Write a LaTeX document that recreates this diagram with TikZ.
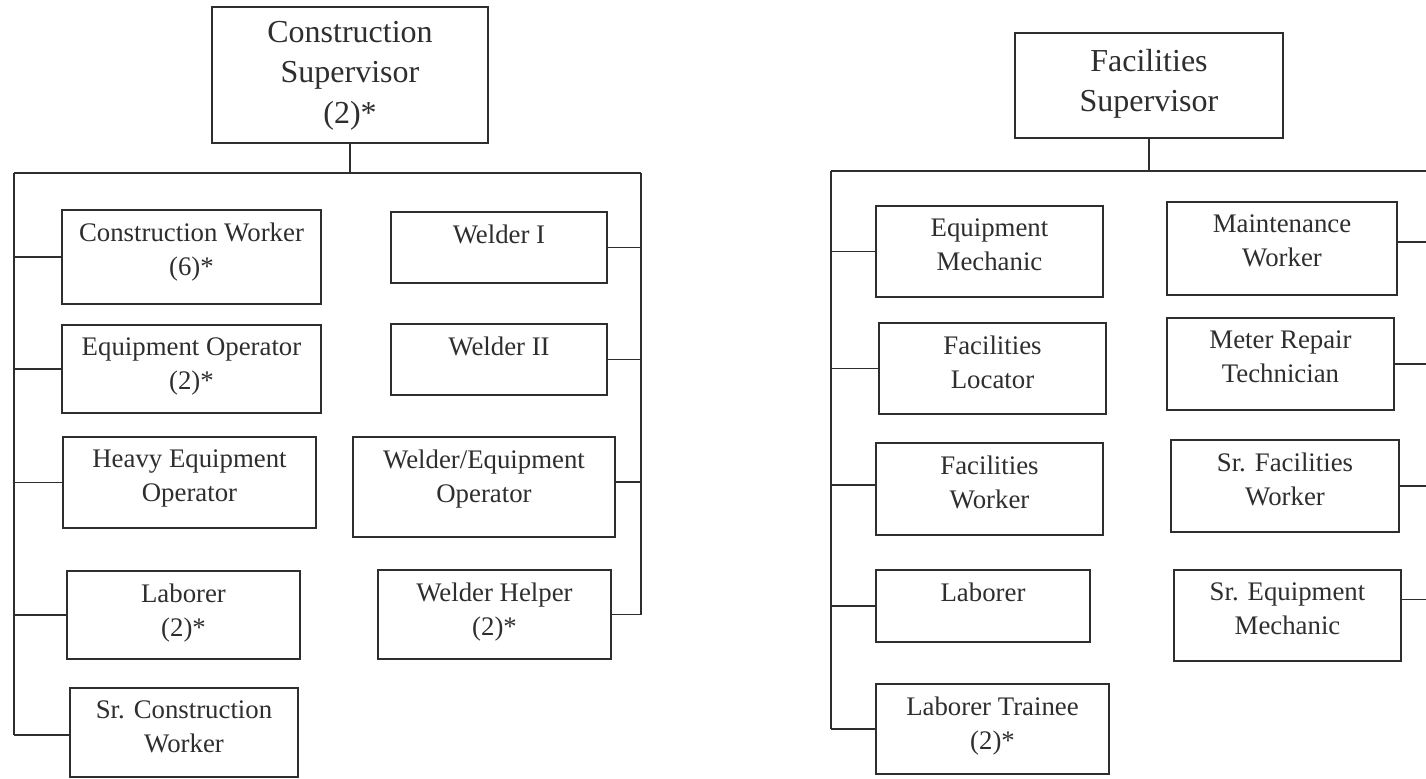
\documentclass[tikz,border=0pt]{standalone}
\usepackage{fontspec}
\setmainfont{Liberation Serif}
\usetikzlibrary{fit}
\definecolor{ink}{HTML}{2E2E2E}
\tikzset{
  box/.style={draw=ink, line width=1.2pt, inner sep=0pt},
  txt/.style={anchor=north, inner sep=0pt, align=center, text=ink,
    font=\fontsize{13.4pt}{17pt}\selectfont},
  suptxt/.style={anchor=north, inner sep=0pt, align=center, text=ink,
    font=\fontsize{16pt}{20.2pt}\selectfont},
  wire/.style={draw=ink, line width=0.8pt},
}
\newcommand{\obox}[6]{%
  \node[box, fit={(#2,#3) (#4,#5)}] (#1) {};
  \node[txt] (#1t) at ([yshift=-6.6pt]#1.north) {#6};}
\begin{document}
\begin{tikzpicture}[x=0.5pt, y=-0.5pt]
\useasboundingbox (0,0) rectangle (1426,778);
\fill[white] (0,0) rectangle (1426,778);

% ---------------- Left chart ----------------
\node[box, fit={(212,7) (488,143)}] (sup1) {};
\node[suptxt] (sup1t) at ([yshift=-7.5pt]sup1.north) {Construction\\Supervisor\\(2)*};

\coordinate (lt1) at (14,173);
\coordinate (rt1) at (641,173);
\coordinate (lb1) at (14,735);
\coordinate (rb1) at (641,615);

\obox{cw}{62}{210}{321}{304}{Construction Worker\\(6)*}
\obox{eo}{62}{325}{321}{413}{Equipment Operator\\(2)*}
\obox{heo}{63}{437}{316}{528}{Heavy Equipment\\Operator}
\obox{labA}{67}{571}{300}{659}{Laborer\\(2)*}
\obox{scw}{70}{688}{298}{777}{Sr. Construction\\Worker}
\obox{wa}{391}{212}{607}{283}{Welder I}
\obox{wb}{391}{324}{607}{395}{Welder II}
\obox{weo}{353}{437}{615}{537}{Welder/Equipment\\Operator}
\obox{wh}{378}{570}{611}{659}{Welder Helper\\(2)*}

\draw[wire] (sup1.south) -- (sup1.south |- lt1);
\draw[wire] (lt1) -- (rt1);
\draw[wire] (lt1) -- (lb1);
\draw[wire] (rt1) -- (rb1);
\foreach \n in {cw,eo,heo,labA} \draw[wire] (\n.west) -- (\n.west -| lt1);
\draw[wire] ([yshift=-1.2pt]scw.west) -- ([yshift=-1.2pt]scw.west -| lt1);
\foreach \n in {wa,wb,wh} \draw[wire] (\n.east) -- (\n.east -| rt1);
\draw[wire] ([yshift=2.5pt]weo.east) -- ([yshift=2.5pt]weo.east -| rt1);

% ---------------- Right chart ----------------
\node[box, fit={(1015,33) (1283,138)}] (sup2) {};
\node[suptxt] (sup2t) at ([yshift=-8.5pt]sup2.north) {Facilities\\Supervisor};

\coordinate (lt2) at (831,171);
\coordinate (rt2) at (1440,171);
\coordinate (lb2) at (831,729);

\obox{em}{876}{206}{1103}{297}{Equipment\\Mechanic}
\obox{fl}{879}{323}{1106}{414}{Facilities\\Locator}
\obox{fw}{876}{443}{1103}{535}{Facilities\\Worker}
\obox{labB}{876}{570}{1090}{642}{Laborer}
\obox{ltr}{876}{684}{1109}{774}{Laborer Trainee\\(2)*}
\obox{mw}{1167}{202}{1397}{295}{Maintenance\\Worker}
\obox{mr}{1167}{318}{1394}{410}{Meter Repair\\Technician}
\obox{sfw}{1171}{440}{1399}{532}{Sr. Facilities\\Worker}
\obox{sem}{1174}{570}{1401}{661}{Sr. Equipment\\Mechanic}

\draw[wire] (sup2.south) -- (sup2.south |- lt2);
\draw[wire] (lt2) -- (rt2);
\draw[wire] (lt2) -- (lb2);
\foreach \n in {em,fl,labB,ltr} \draw[wire] (\n.west) -- (\n.west -| lt2);
\draw[wire] ([yshift=2pt]fw.west) -- ([yshift=2pt]fw.west -| lt2);
\foreach \n in {mr,sfw} \draw[wire] (\n.east) -- (\n.east -| rt2);
\draw[wire] ([yshift=3.2pt]mw.east) -- ([yshift=3.2pt]mw.east -| rt2);
\draw[wire] ([yshift=8pt]sem.east) -- ([yshift=8pt]sem.east -| rt2);
\end{tikzpicture}
\end{document}
